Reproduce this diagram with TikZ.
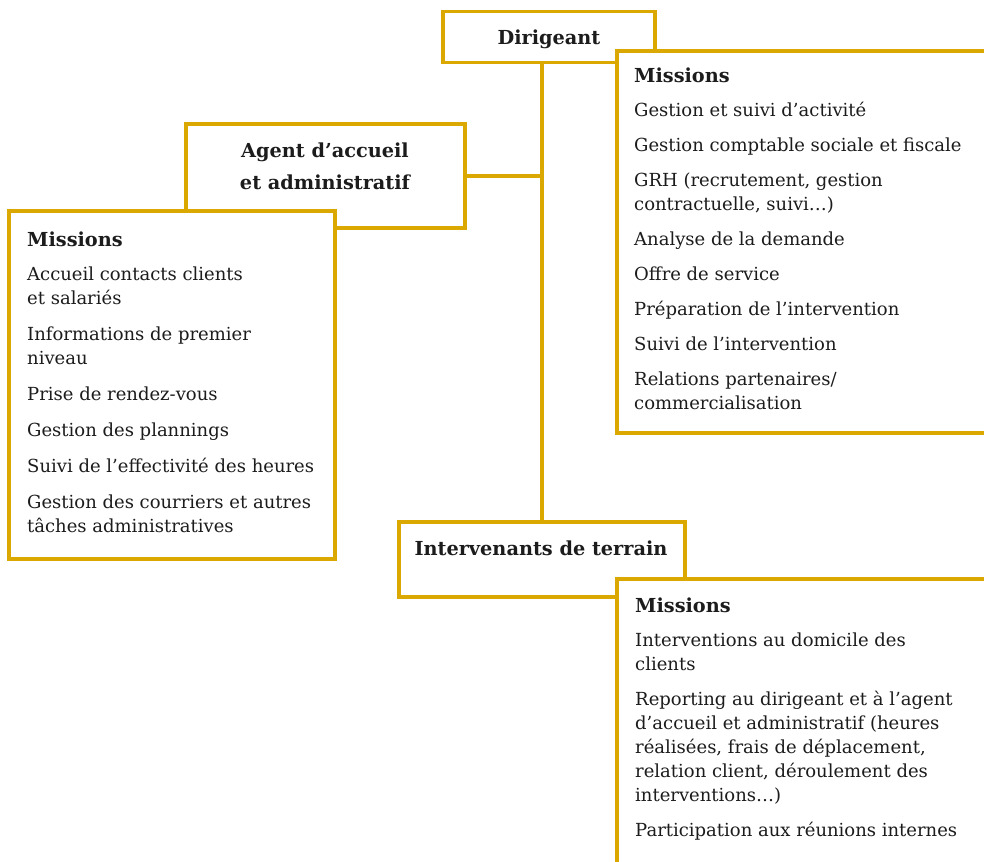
\documentclass[tikz,border=0pt]{standalone}
\usepackage{fontspec}
\setmainfont{DejaVu Serif}
\definecolor{gold}{RGB}{219,168,0}
\definecolor{ink}{RGB}{28,28,28}
\newcommand{\boxtext}[2]{\parbox[t]{#1}{\raggedright #2}}
\newcommand{\titletext}[2]{\parbox[t]{#1}{\centering #2}}
\newcommand{\mhead}{{\fontsize{19.3}{24}\selectfont\bfseries Missions}}
\tikzset{
  framebox/.style={draw=gold, line width=3.1pt, fill=white, inner sep=0pt},
  link/.style={draw=gold, line width=3.1pt},
  bodytext/.style={anchor=base west, inner sep=0pt, text=ink, font=\fontsize{18}{24}\selectfont},
  headtext/.style={anchor=base, inner sep=0pt, text=ink, font=\fontsize{19.3}{32}\selectfont\bfseries},
}
\begin{document}
\begin{tikzpicture}[x=1pt,y=-1pt]
\useasboundingbox (0,0) rectangle (984,861);
\clip (0,0) rectangle (984,861);
% title boxes
\node[framebox, minimum width=212pt, minimum height=51pt] (dir) at (549,37) {};
\node[framebox, minimum width=279pt, minimum height=104pt] (agent) at (325.5,176) {};
\node[framebox, minimum width=286pt, minimum height=75pt] (inter) at (542,559.5) {};
% connectors
\draw[link] (inter.north) -- (inter.north |- dir.south);
\draw[link] (agent.east) -- (agent.east -| inter.north);
% mission boxes
\node[framebox, minimum width=400pt, minimum height=382pt] (m1) at (817,242) {};
\node[framebox, minimum width=326pt, minimum height=348pt] (m2) at (172,385) {};
\node[framebox, minimum width=400pt, minimum height=330pt] (m3) at (817,744) {};
% titles
\node[headtext] (tdir) at (549,45) {Dirigeant};
\node[headtext] (tagent) at (325,158) {\titletext{260pt}{Agent d’accueil\\et administratif}};
\node[headtext] (tinter) at (541,555) {Intervenants de terrain};
% mission texts
\node[bodytext] (x1) at (634,83) {\boxtext{340pt}{\mhead\\[10pt]
Gestion et suivi d’activité\\[11pt]
Gestion comptable sociale et fiscale\\[11pt]
GRH (recrutement, gestion\\contractuelle, suivi…)\\[11pt]
Analyse de la demande\\[11pt]
Offre de service\\[11pt]
Préparation de l’intervention\\[11pt]
Suivi de l’intervention\\[11pt]
Relations partenaires/\\commercialisation}};
\node[bodytext] (x2) at (27,246) {\boxtext{300pt}{\mhead\\[10pt]
Accueil contacts clients\\et salariés\\[12pt]
Informations de premier\\niveau\\[12pt]
Prise de rendez-vous\\[12pt]
Gestion des plannings\\[12pt]
Suivi de l’effectivité des heures\\[12pt]
Gestion des courriers et autres\\tâches administratives}};
\node[bodytext] (x3) at (635,612) {\boxtext{340pt}{\mhead\\[10pt]
Interventions au domicile des\\clients\\[11pt]
Reporting au dirigeant et à l’agent\\d’accueil et administratif (heures\\réalisées, frais de déplacement,\\relation client, déroulement des\\interventions…)\\[11pt]
Participation aux réunions internes}};
\end{tikzpicture}
\end{document}
